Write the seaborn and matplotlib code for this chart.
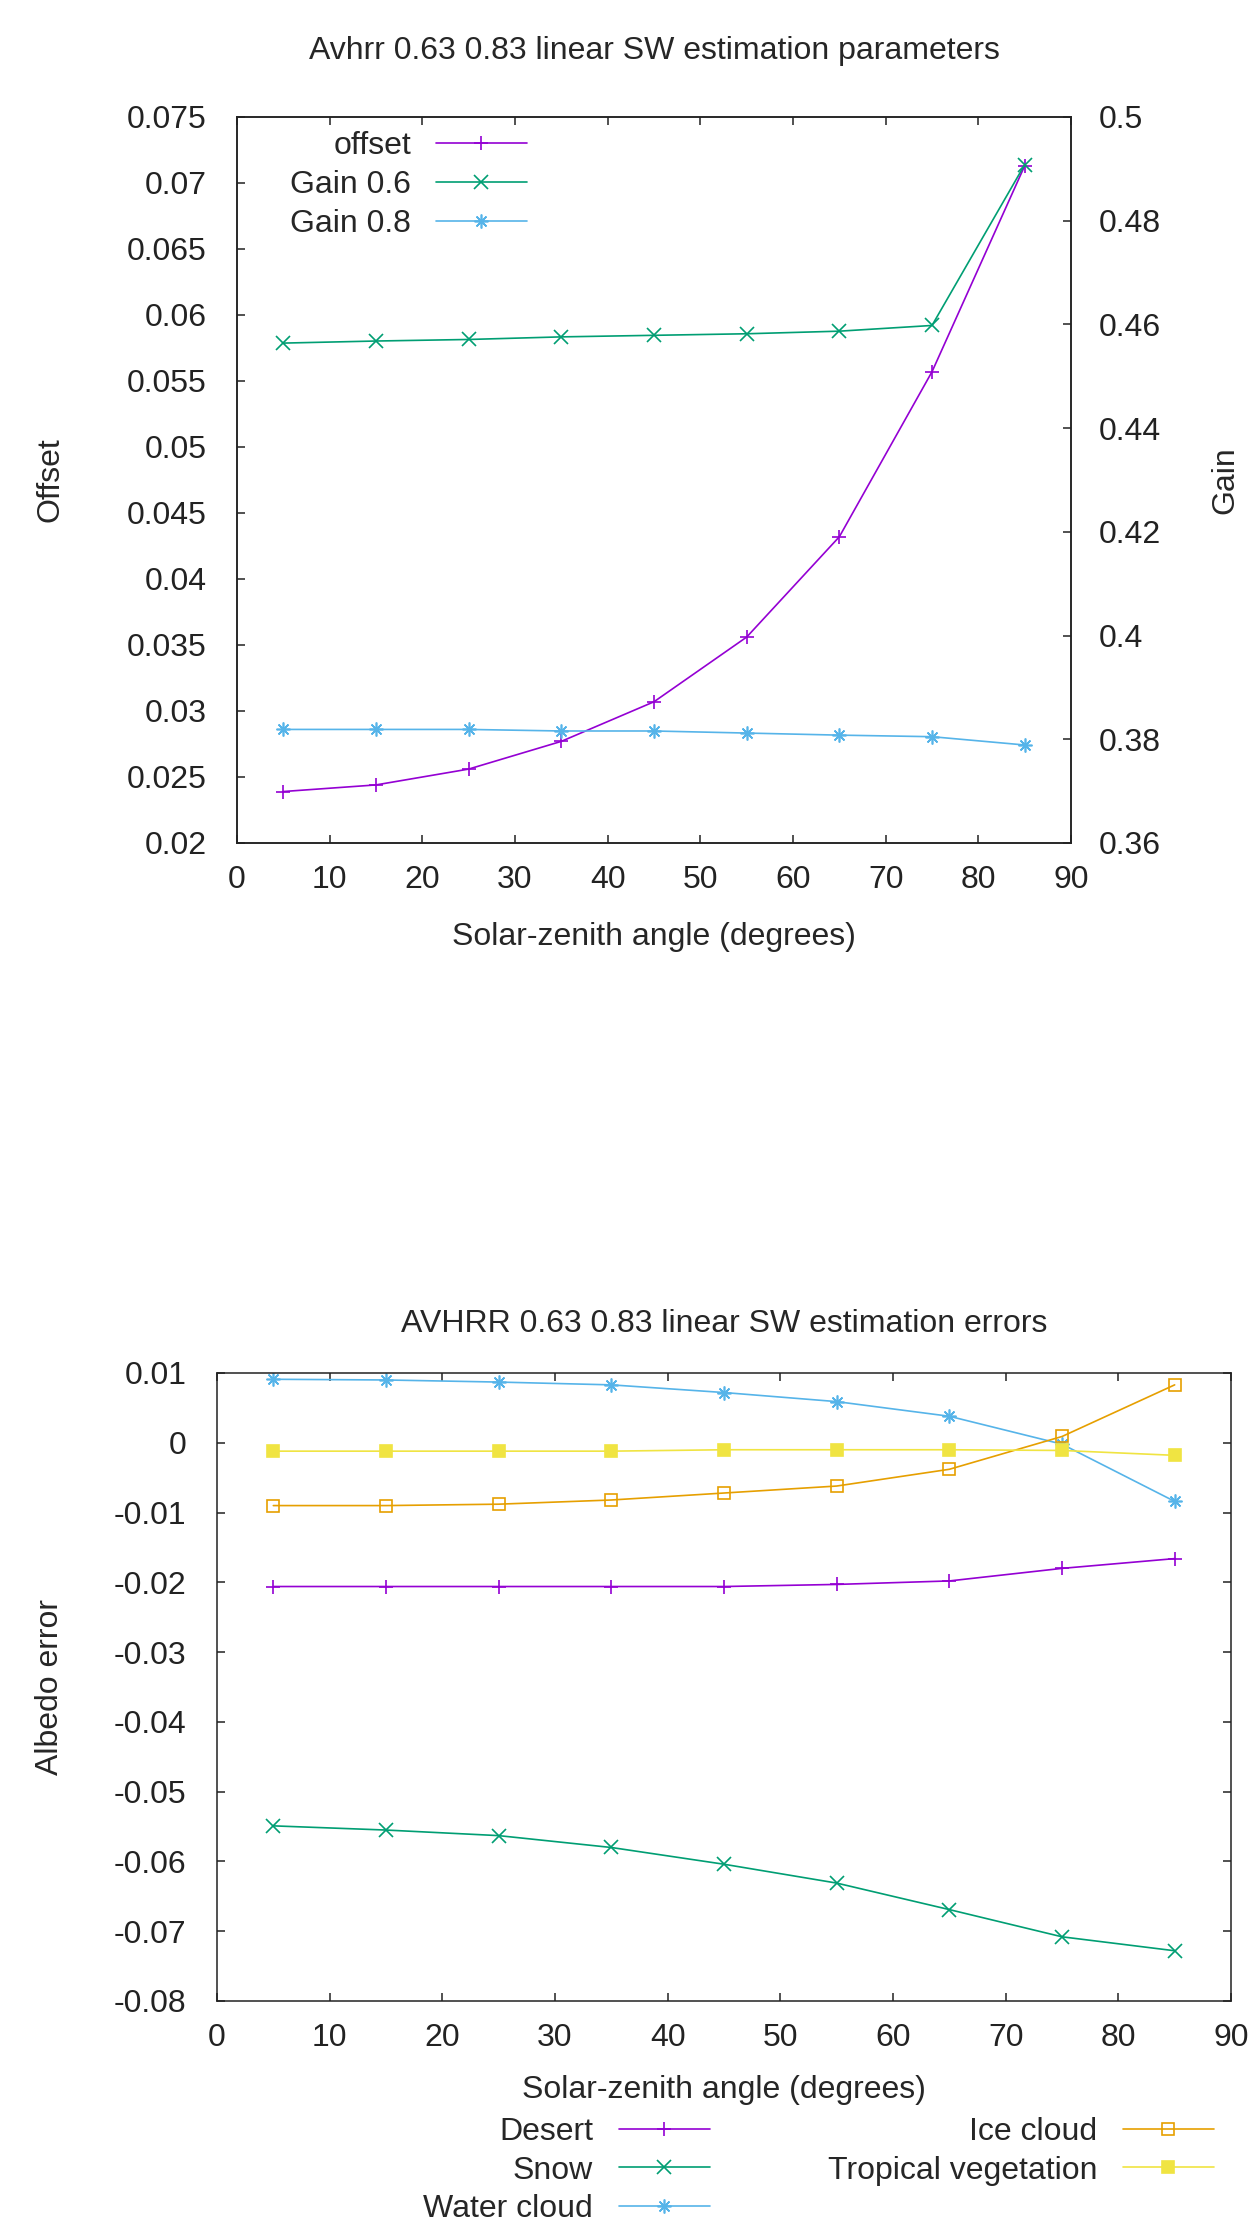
import matplotlib
matplotlib.use("Agg")
import matplotlib.pyplot as plt
import seaborn as sns
import pandas as pd

# ---------------- data ----------------
angles = [5, 15, 25, 35, 45, 55, 65, 75, 85]

offset = [0.0239, 0.0244, 0.0256, 0.0277, 0.0307, 0.0356, 0.0432, 0.0557, 0.0713]
gain06 = [0.4564, 0.4568, 0.4571, 0.4576, 0.4579, 0.4582, 0.4587, 0.4598, 0.4908]
gain08 = [0.3819, 0.3819, 0.3819, 0.3816, 0.3816, 0.3812, 0.3808, 0.3805, 0.3789]

desert = [-0.0206, -0.0206, -0.0206, -0.0206, -0.0206, -0.0203, -0.0198, -0.0180, -0.0166]
snow = [-0.0549, -0.0555, -0.0563, -0.0580, -0.0604, -0.0631, -0.0669, -0.0708, -0.0728]
water_cloud = [0.0091, 0.0090, 0.0087, 0.0083, 0.0072, 0.0059, 0.0038, -0.0002, -0.0084]
ice_cloud = [-0.0090, -0.0090, -0.0088, -0.0082, -0.0072, -0.0062, -0.0038, 0.0009, 0.0083]
tropical_veg = [-0.0012, -0.0012, -0.0012, -0.0012, -0.0010, -0.0010, -0.0010, -0.0011, -0.0018]

x_ticks = [0, 10, 20, 30, 40, 50, 60, 70, 80, 90]
offset_ticks = [0.02, 0.025, 0.03, 0.035, 0.04, 0.045, 0.05, 0.055, 0.06, 0.065, 0.07, 0.075]
offset_labels = ["0.02", "0.025", "0.03", "0.035", "0.04", "0.045", "0.05", "0.055",
                 "0.06", "0.065", "0.07", "0.075"]
gain_ticks = [0.36, 0.38, 0.40, 0.42, 0.44, 0.46, 0.48, 0.50]
gain_labels = ["0.36", "0.38", "0.4", "0.42", "0.44", "0.46", "0.48", "0.5"]
err_ticks = [-0.08, -0.07, -0.06, -0.05, -0.04, -0.03, -0.02, -0.01, 0.0, 0.01]
err_labels = ["-0.08", "-0.07", "-0.06", "-0.05", "-0.04", "-0.03", "-0.02", "-0.01", "0", "0.01"]

# ---------------- style ----------------
sns.set_style("white")
plt.rcParams["font.family"] = ["Liberation Sans", "DejaVu Sans"]
FS = 23
plt.rcParams["font.size"] = FS
plt.rcParams["axes.edgecolor"] = "#222222"
plt.rcParams["axes.linewidth"] = 1.1

PURPLE = "#9400D3"
GREEN = "#009E73"
BLUE = "#56B4E9"
ORANGE = "#E69F00"
YELLOW = "#F0E442"
ASTER = (8, 2, 0)

W, H = 1248, 2221
fig = plt.figure(figsize=(W / 100, H / 100), dpi=100)


def rect(l, r, t, b):
    return [l / W, 1 - b / H, (r - l) / W, (b - t) / H]


def series(ax, y, color, marker, label, ms=10, **kw):
    df = pd.DataFrame({"x": angles, "y": y})
    sns.lineplot(data=df, x="x", y="y", ax=ax, color=color, marker=marker,
                 markersize=ms, markeredgecolor=color, markeredgewidth=1.2,
                 linewidth=1.2, label=label, legend=False, **kw)


def style_ticks(ax, left=True, right=True, top=True):
    ax.tick_params(direction="in", length=6, width=1.1, colors="#222222",
                   labelcolor="#222222", labelsize=FS)
    ax.tick_params(axis="x", top=top, bottom=True, pad=16)
    ax.tick_params(axis="y", left=left, right=right)


# ---------------- top panel ----------------
ax1 = fig.add_axes(rect(237, 1071, 117, 843))
ax2 = ax1.twinx()

series(ax1, offset, PURPLE, "+", "offset")
series(ax2, gain06, GREEN, "x", "Gain 0.6")
series(ax2, gain08, BLUE, ASTER, "Gain 0.8")

ax1.set_xlim(0, 90)
ax1.set_ylim(0.02, 0.075)
ax2.set_ylim(0.36, 0.50)
ax1.set_xticks(x_ticks)
ax1.set_xticklabels([str(v) for v in x_ticks])
ax1.set_yticks(offset_ticks)
ax1.set_yticklabels(offset_labels)
ax2.set_yticks(gain_ticks)
ax2.set_yticklabels(gain_labels)
style_ticks(ax1, left=True, right=False, top=True)
ax1.tick_params(axis="y", pad=22)
ax2.tick_params(direction="in", length=6, width=1.1, colors="#222222",
                labelcolor="#222222", labelsize=FS, pad=20)
ax1.grid(False)
ax2.grid(False)

ax1.set_xlabel("Solar-zenith angle (degrees)", fontsize=FS)
ax1.xaxis.label.set_va("center")
ax1.xaxis.set_label_coords(0.5, (843 - 937) / 726)
ax1.set_ylabel("Offset", fontsize=FS)
ax1.yaxis.label.set_va("center")
ax1.yaxis.set_label_coords((50 - 237) / 834, 0.5)
ax2.set_ylabel("Gain", fontsize=FS, rotation=90)
ax2.yaxis.label.set_va("center")
ax2.yaxis.set_label_coords((1225 - 237) / 834, 0.5)
ax1.set_title("Avhrr 0.63 0.83 linear SW estimation parameters", fontsize=FS,
              y=(843 - 67) / 726, va="baseline")

h1, l1 = ax1.get_legend_handles_labels()
h2, l2 = ax2.get_legend_handles_labels()
fig.legend(h1 + h2, l1 + l2, loc="upper right",
           bbox_to_anchor=(527 / W, 1 - 131 / H), bbox_transform=fig.transFigure,
           frameon=False, markerfirst=False, handlelength=2.85, handletextpad=0.78,
           labelspacing=0.28, borderpad=0, borderaxespad=0, fontsize=FS)

# ---------------- bottom panel ----------------
ax3 = fig.add_axes(rect(217, 1231, 1373, 2001))
series(ax3, desert, PURPLE, "+", "Desert")
series(ax3, snow, GREEN, "x", "Snow")
series(ax3, water_cloud, BLUE, ASTER, "Water cloud")
series(ax3, ice_cloud, ORANGE, "s", "Ice cloud", ms=8, fillstyle="none")
series(ax3, tropical_veg, YELLOW, "s", "Tropical vegetation", ms=8,
       markerfacecolor=YELLOW)

ax3.set_xlim(0, 90)
ax3.set_ylim(-0.08, 0.01)
ax3.set_xticks(x_ticks)
ax3.set_xticklabels([str(v) for v in x_ticks])
ax3.set_yticks(err_ticks)
ax3.set_yticklabels(err_labels)
style_ticks(ax3, left=True, right=True, top=True)
ax3.tick_params(axis="y", pad=22)
ax3.grid(False)

ax3.set_xlabel("Solar-zenith angle (degrees)", fontsize=FS)
ax3.xaxis.label.set_va("center")
ax3.xaxis.set_label_coords(0.5, (2001 - 2090) / 628)
ax3.set_ylabel("Albedo error", fontsize=FS)
ax3.yaxis.label.set_va("center")
ax3.yaxis.set_label_coords((50 - 217) / 1014, 0.5)
ax3.set_title("AVHRR 0.63 0.83 linear SW estimation errors", fontsize=FS,
              y=(2001 - 1340) / 628, va="baseline")

h3, l3 = ax3.get_legend_handles_labels()
fig.legend(h3, l3, loc="upper right", ncol=2,
           bbox_to_anchor=(1214 / W, 1 - 2117 / H), bbox_transform=fig.transFigure,
           frameon=False, markerfirst=False, handlelength=2.85, handletextpad=0.8,
           labelspacing=0.27, columnspacing=3.7, borderpad=0, borderaxespad=0,
           fontsize=FS)

fig.savefig("out.png", dpi=100, facecolor="white")
